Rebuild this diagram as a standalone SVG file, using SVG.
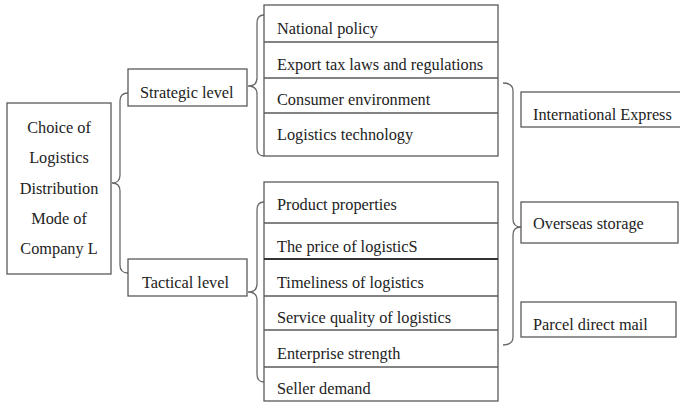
<svg xmlns="http://www.w3.org/2000/svg" width="680" height="403" viewBox="0 0 680 403">
  <style>
    .box { fill: #ffffff; stroke: #5a5a5a; stroke-width: 1.3; }
    .row { stroke: #5a5a5a; stroke-width: 1.3; }
    .row-strong { stroke: #333333; stroke-width: 2; }
    .brace { fill: none; stroke: #6a6a6a; stroke-width: 1.3; }
    text { font-family: "Liberation Serif", "Times New Roman", serif; font-size: 16.3px; fill: #222222; }
    .mid { text-anchor: middle; }
  </style>
  <rect width="680" height="403" fill="#ffffff"/>

  <!-- braces linking each level to the next -->
  <g id="connectors">
    <path class="brace" d="M128,93 Q120,93 120,101 L120,175 Q120,183 112,183 Q120,183 120,191 L120,265 Q120,273 128,273"/>
    <path class="brace" d="M264,15 Q257,15 257,23 L257,78 Q257,86 248,86 Q257,86 257,94 L257,148 Q257,156 264,156"/>
    <path class="brace" d="M264,202 Q257,202 257,210 L257,284 Q257,292 248,292 Q257,292 257,300 L257,374 Q257,382 264,382"/>
    <path class="brace" d="M503,83 Q513,83 513,91 L513,219 Q513,227 521,227 Q513,227 513,235 L513,337 Q513,345 503,345"/>
  </g>

  <g id="root">
    <rect class="box" x="7" y="103" width="104" height="171"/>
    <text class="mid" x="59" y="133">Choice of</text>
    <text class="mid" x="59" y="163">Logistics</text>
    <text class="mid" x="59" y="194">Distribution</text>
    <text class="mid" x="59" y="224">Mode of</text>
    <text class="mid" x="59" y="254">Company L</text>
  </g>

  <g id="strategic">
    <rect class="box" x="128" y="69" width="119" height="37"/>
    <text x="140" y="98">Strategic level</text>
  </g>

  <g id="tactical">
    <rect class="box" x="128" y="259" width="119" height="37"/>
    <text x="142" y="288">Tactical level</text>
  </g>

  <g id="strategic-factors">
    <rect class="box" x="264" y="5" width="234" height="151"/>
    <line class="row" x1="264" y1="42" x2="498" y2="42"/>
    <line class="row" x1="264" y1="78" x2="498" y2="78"/>
    <line class="row" x1="264" y1="113" x2="498" y2="113"/>
    <text x="277" y="34">National policy</text>
    <text x="277" y="70">Export tax laws and regulations</text>
    <text x="277" y="105">Consumer environment</text>
    <text x="277" y="140">Logistics technology</text>
  </g>

  <g id="tactical-factors">
    <rect class="box" x="264" y="182" width="234" height="219"/>
    <line class="row" x1="264" y1="223" x2="498" y2="223"/>
    <line class="row-strong" x1="264" y1="259" x2="498" y2="259"/>
    <line class="row" x1="264" y1="296" x2="498" y2="296"/>
    <line class="row" x1="264" y1="330" x2="498" y2="330"/>
    <line class="row" x1="264" y1="367" x2="498" y2="367"/>
    <text x="277" y="210">Product properties</text>
    <text x="277" y="252">The price of logisticS</text>
    <text x="277" y="288">Timeliness of logistics</text>
    <text x="277" y="323">Service quality of logistics</text>
    <text x="277" y="359">Enterprise strength</text>
    <text x="277" y="394">Seller demand</text>
  </g>

  <g id="international-express">
    <rect class="box" x="521" y="92" width="170" height="35"/>
    <text x="533" y="120">International Express</text>
  </g>

  <g id="overseas-storage">
    <rect class="box" x="521" y="202" width="157" height="41"/>
    <text x="533" y="229">Overseas storage</text>
  </g>

  <g id="parcel-direct-mail">
    <rect class="box" x="521" y="302" width="155" height="35"/>
    <text x="533" y="330">Parcel direct mail</text>
  </g>
</svg>
